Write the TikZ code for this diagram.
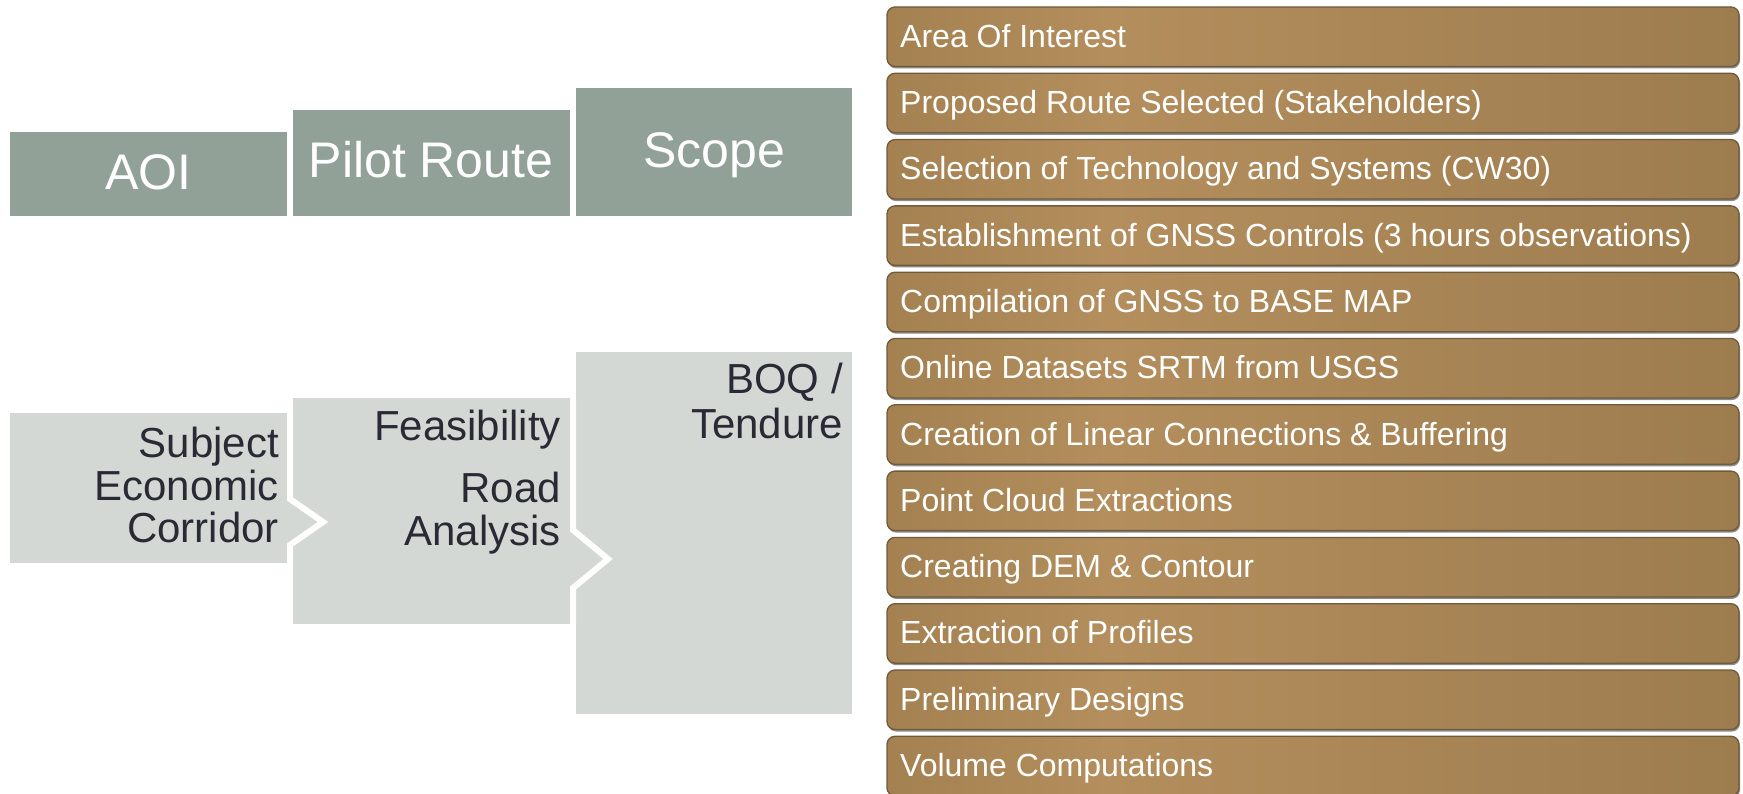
\documentclass[tikz,border=0pt]{standalone}
\usepackage{fontspec}
\setmainfont{Liberation Sans}
\usetikzlibrary{shadows}
\definecolor{topgreen}{HTML}{92A197}
\definecolor{lightbox}{HTML}{D3D8D4}
\definecolor{darktext}{HTML}{2A2A35}
\definecolor{brA}{HTML}{A48151}
\definecolor{brB}{HTML}{B48E5D}
\definecolor{brC}{HTML}{9D7C4E}
\definecolor{brEdge}{HTML}{6F5A3D}
\pgfdeclarehorizontalshading{brownsh}{100bp}{color(0bp)=(brA); color(25bp)=(brA); color(38bp)=(brB); color(75bp)=(brC); color(100bp)=(brC)}
\newcommand\fTop{\fontsize{50}{50}\selectfont}
\newcommand\fBot{\fontsize{42}{42}\selectfont}
\newcommand\fList{\fontsize{32}{32}\selectfont}
\begin{document}
\begin{tikzpicture}[x=1pt,y=-1pt,
  flatbox/.style={rectangle, inner sep=0pt, outer sep=0pt, anchor=north west},
  topbox/.style={flatbox, fill=topgreen},
  botbox/.style={flatbox, fill=lightbox},
  toptext/.style={anchor=base, text=white, font=\fTop, inner sep=0pt},
  bottext/.style={anchor=base east, text=darktext, font=\fBot, inner sep=0pt},
  listbox/.style={rectangle, inner sep=0pt, outer sep=0pt, anchor=north west,
    minimum width=852pt, minimum height=59.5pt, rounded corners=8pt,
    shading=brownsh, draw=brEdge, line width=1.3pt,
    drop shadow={shadow xshift=1pt, shadow yshift=-2pt, opacity=0.45, fill=black}},
  listtext/.style={anchor=base west, text=white, font=\fList, inner sep=0pt},
  gap/.style={draw=white, line width=6pt, miter limit=10}]
\useasboundingbox (0,0) rectangle (1743,794);
\fill[white] (0,0) rectangle (1743,794);

% top row
\node[topbox, minimum width=277pt, minimum height=84pt]  (baoi)   at (10,132) {};
\node[topbox, minimum width=277pt, minimum height=106pt] (bpilot) at (293,110) {};
\node[topbox, minimum width=276pt, minimum height=128pt] (bscope) at (576,88) {};
\node[toptext] (taoi)   at (148.5,190) {AOI};
\node[toptext] (tpilot) at (431,178) {Pilot Route};
\node[toptext] (tscope) at (714,168) {Scope};

% bottom row
\node[botbox, minimum width=277pt, minimum height=226pt] (bfeas) at (293,398) {};
\node[botbox, minimum width=276pt, minimum height=362pt] (bboq)  at (576,352) {};
\node[botbox, minimum width=277pt, minimum height=150pt] (bsub)  at (10,413) {};
\fill[lightbox] (bsub.east |- 0,499) -- (323,522) -- (bsub.east |- 0,545) -- cycle;
\draw[gap] (290,413) -- (290,499) -- (323,522) -- (290,545) -- (290,563);
\fill[lightbox] (bfeas.east |- 0,530) -- (608,559) -- (bfeas.east |- 0,588) -- cycle;
\draw[gap] (573,398) -- (573,530) -- (608,559) -- (573,588) -- (573,624);

\node[bottext] (s1) at (279,457) {Subject};
\node[bottext] (s2) at (279,500) {Economic};
\node[bottext] (s3) at (279,542) {Corridor};
\node[bottext] (f1) at (561,440) {Feasibility};
\node[bottext] (f2) at (561,502) {Road};
\node[bottext] (f3) at (561,545) {Analysis};
\node[bottext] (q1) at (843,393) {BOQ /};
\node[bottext] (q2) at (843,438) {Tendure};

% right list
\foreach \t [count=\i from 0] in {Area Of Interest,
  Proposed Route Selected (Stakeholders),
  Selection of Technology and Systems (CW30),
  Establishment of GNSS Controls (3 hours observations),
  Compilation of GNSS to BASE MAP,
  Online Datasets SRTM from USGS,
  Creation of Linear Connections \& Buffering,
  Point Cloud Extractions,
  Creating DEM \& Contour,
  Extraction of Profiles,
  Preliminary Designs,
  Volume Computations}{
  \pgfmathsetmacro\yy{7+66.3*\i}
  \pgfmathsetmacro\yt{\yy+40.2}
  \node[listbox] (l\i) at (887,\yy) {};
  \node[listtext] (lt\i) at (900,\yt) {\t};
}
\end{tikzpicture}
\end{document}
